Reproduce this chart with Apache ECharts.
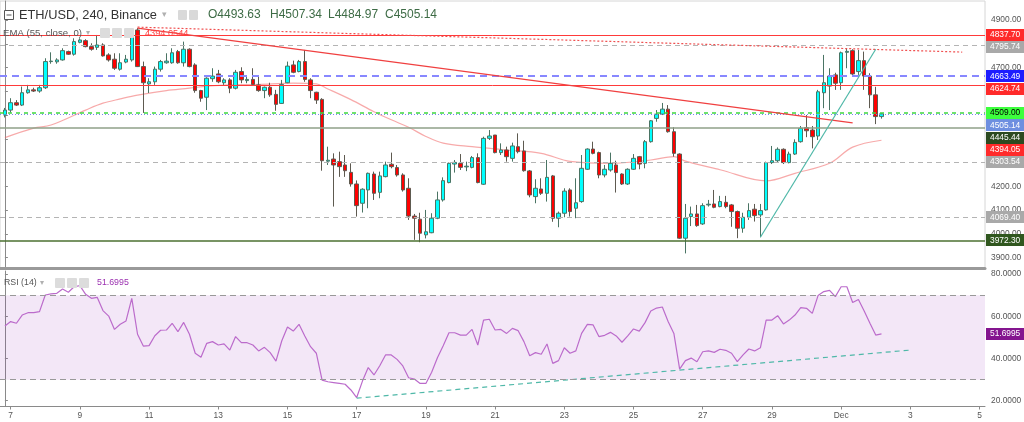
<!DOCTYPE html>
<html><head><meta charset="utf-8">
<script src="https://cdn.jsdelivr.net/npm/echarts@6/dist/echarts.min.js"></script>
<style>html,body{margin:0;padding:0;background:#fff}#c{width:1024px;height:422px}</style>
</head><body><div id="c"></div>
<script>
// ---- data (4h candles, index 0 = Nov 6 20:00) ----
const dayLabels = ['7','9','11','13','15','17','19','21','23','25','27','29','Dec','3','5'];
const dayTickIndex = [1,13,25,37,49,61,73,85,97,109,121,133,145,157,169];
// [open, high, low, close]
const candles = [
[4500,4530,4490,4521],[4521,4571,4510,4552],[4552,4563,4538,4542],[4542,4620,4538,4594],[4594,4627,4590,4606],
[4606,4615,4597,4601],[4601,4627,4594,4615],[4615,4739,4610,4725],[4725,4764,4716,4727],[4724,4739,4716,4732],
[4732,4781,4729,4771],[4767,4771,4753,4756],[4756,4823,4750,4809],[4806,4823,4802,4816],[4813,4819,4785,4788],
[4788,4802,4771,4777],[4785,4837,4774,4795],[4795,4802,4746,4749],[4753,4760,4725,4732],[4735,4760,4690,4697],
[4693,4760,4687,4720],[4723,4753,4718,4735],[4732,4866,4725,4851],[4858,4866,4702,4704],[4704,4725,4509,4636],
[4631,4655,4593,4640],[4640,4704,4627,4693],[4693,4732,4683,4725],[4720,4760,4716,4727],[4720,4781,4716,4762],
[4767,4774,4716,4720],[4720,4809,4704,4777],[4777,4781,4701,4704],[4711,4718,4594,4603],[4603,4606,4556,4571],
[4575,4659,4521,4655],[4653,4697,4640,4664],[4673,4690,4634,4640],[4636,4655,4627,4648],[4648,4655,4592,4613],
[4613,4690,4608,4680],[4683,4701,4634,4648],[4645,4662,4634,4650],[4650,4697,4627,4629],[4627,4662,4598,4603],
[4603,4620,4571,4617],[4617,4636,4577,4585],[4587,4606,4518,4545],[4549,4648,4547,4629],[4636,4725,4634,4706],
[4711,4729,4676,4680],[4683,4732,4680,4725],[4725,4774,4640,4650],[4648,4655,4571,4603],[4596,4598,4547,4563],
[4566,4571,4266,4308],[4306,4367,4290,4310],[4315,4339,4115,4290],[4304,4346,4240,4283],[4290,4332,4240,4266],
[4259,4297,4199,4210],[4210,4225,4073,4119],[4129,4192,4090,4188],[4185,4258,4108,4255],[4252,4262,4143,4171],
[4175,4262,4150,4244],[4241,4304,4238,4290],[4293,4342,4276,4283],[4279,4290,4241,4248],[4248,4255,4178,4185],
[4192,4234,4059,4075],[4075,4084,3975,4066],[4062,4089,3965,4003],[3996,4101,3981,4009],[4005,4087,4003,4066],
[4066,4178,4062,4143],[4143,4238,4136,4224],[4216,4300,4213,4297],[4294,4311,4258,4301],[4297,4336,4269,4280],
[4282,4304,4264,4285],[4280,4328,4276,4321],[4321,4339,4213,4216],[4209,4409,4206,4402],[4402,4437,4395,4412],
[4416,4416,4339,4342],[4342,4381,4332,4353],[4353,4367,4304,4325],[4318,4384,4304,4370],[4367,4423,4339,4346],
[4349,4392,4262,4266],[4265,4269,4154,4164],[4157,4230,4129,4192],[4189,4234,4164,4171],[4171,4311,4136,4238],
[4244,4248,4051,4066],[4066,4094,4028,4087],[4087,4192,4070,4180],[4185,4192,4073,4094],[4108,4234,4066,4131],
[4136,4332,4131,4276],[4272,4360,4269,4357],[4357,4388,4335,4339],[4342,4346,4234,4248],[4248,4290,4238,4272],
[4269,4342,4262,4297],[4290,4308,4174,4258],[4252,4255,4206,4210],[4210,4276,4206,4272],[4272,4336,4269,4318],
[4325,4328,4272,4294],[4297,4395,4276,4388],[4388,4479,4384,4476],[4486,4521,4472,4504],[4504,4551,4500,4525],
[4525,4542,4426,4430],[4430,4449,4325,4339],[4336,4339,3979,3982],[3982,4126,3918,4066],[4073,4115,4033,4084],
[4084,4122,4030,4035],[4042,4129,4038,4119],[4122,4143,4115,4125],[4126,4185,4108,4112],[4115,4160,4112,4136],
[4133,4160,4108,4115],[4122,4126,4030,4094],[4094,4098,3982,4024],[4024,4089,4005,4070],[4070,4129,4059,4098],
[4104,4126,4052,4077],[4080,4126,3986,4098],[4101,4304,4098,4300],[4300,4370,4294,4308],[4308,4364,4300,4356],
[4356,4360,4294,4300],[4300,4346,4297,4336],[4336,4398,4332,4385],[4388,4454,4384,4444],[4447,4500,4407,4434],
[4437,4454,4360,4409],[4412,4606,4395,4598],[4594,4753,4529,4636],[4622,4697,4521,4664],[4669,4678,4606,4634],
[4636,4767,4606,4762],[4764,4781,4697,4768],[4771,4777,4669,4673],[4683,4774,4669,4729],[4729,4767,4606,4664],
[4664,4676,4529,4585],[4585,4619,4462,4493.63],[4493.63,4507.34,4484.97,4505.14]
];
const rsiValues = [
55.4,57.5,56.7,60.6,61.7,61.7,62.2,70.1,70.6,70.9,72.9,71.4,74.0,74.5,70.4,68.5,69.0,62.7,60.1,53.8,
56.2,57.8,68.5,51.5,45.9,46.1,50.8,53.4,53.5,56.7,52.7,57.1,51.5,42.5,40.6,47.2,48.0,46.4,46.9,44.0,
50.4,47.5,47.5,46.4,43.6,45.3,42.8,38.8,48.3,54.9,53.0,56.2,50.7,45.6,42.5,29.8,29.0,28.6,28.2,27.8,
25.1,21.5,29.3,35.7,32.2,36.6,41.7,41.7,39.6,36.5,30.9,30.3,28.2,28.2,33.5,40.4,46.1,52.2,52.2,51.1,
51.1,53.8,46.4,58.2,58.6,53.5,53.8,51.9,54.3,53.2,48.0,41.3,42.8,42.0,46.9,37.7,39.0,45.1,42.5,43.6,
51.9,56.2,55.9,50.4,51.0,52.4,50.7,47.7,50.7,54.0,53.0,57.0,62.5,63.9,64.4,57.5,51.9,35.0,39.0,40.2,
38.5,43.2,43.6,42.9,44.4,43.9,42.5,38.5,41.7,44.5,43.6,45.1,58.2,58.2,60.3,56.4,58.2,60.6,64.1,63.8,
61.4,69.8,71.7,72.3,69.3,74.0,74.0,66.5,68.0,62.5,56.7,51.1,51.6995
];
// EMA(55): [candle index, value]
const emaPoints = [[0,4405],[5,4445],[8,4458],[14,4521],[17,4550],[20,4568],[23,4584],[28,4603],[32,4613],
[35,4622],[38,4626],[44,4629],[50,4634],[54,4631],[56,4610],[60,4565],[64,4514],[67,4480],[70,4449],[73,4410],
[76,4382],[81,4367],[87,4353],[93,4339],[98,4305],[105,4297],[112,4311],[116,4325],[118,4306],[124,4270],
[132,4223],[137,4255],[143,4297],[147,4365],[152,4394]];
const trendRedSteep = [[23,4866],[147,4467]];
const trendRedFlat = [[23,4870],[166,4765]];
const trendTeal = [[131,3986],[151,4777]];
const rsiTrend = [[61,21.2],[157,44.0]];
const hLevels = [4837.70,4795.74,4663.49,4624.74,4509.00,4505.14,4445.44,4303.54,4069.40,3972.30];
const tagValues = [4837.70,4795.74,4663.49,4624.74,4509.00,4505.14,4445.44,4394.05,4303.54,4069.40,3972.30];
const priceTicks = [3900,4000,4100,4200,4300,4400,4500,4600,4700,4800,4900];
const rsiTicks = [20,40,60,80];
const rsiBand = [30,70];
const rsiLast = 51.6995;
const ohlc = ['O4493.63','H4507.34','L4484.97','C4505.14'];
const emaLabel = '4394.0544';

// ---- styles ----
const FONT = 'Liberation Sans, Arial, sans-serif';
const AX = 8.4;
const levelStyles = [
  {color:'#ff3a3a',width:1,type:'solid'},
  {color:'#b4b4b4',width:1,type:[5,4]},
  {color:'#8888ff',width:2,type:[7,5]},
  {color:'#ff3a3a',width:1,type:'solid'},
  {color:'#3fd83f',width:1.5,type:[4,4]},
  {color:'#7a88ee',width:1,type:[1,2]},
  {color:'#8fa088',width:1.5,type:'solid'},
  {color:'#b4b4b4',width:1,type:[5,4]},
  {color:'#b4b4b4',width:1,type:[5,4]},
  {color:'#4b7030',width:1.5,type:'solid'}
];
const tagStyles = [
  ['#ff2a2a','#fff'],['#a9a9a9','#fff'],['#1c1cff','#fff'],['#ff2a2a','#fff'],['#3dff3d','#000'],
  ['#6e8fe0','#fff'],['#2c4a20','#fff'],['#ff2a2a','#fff'],['#a9a9a9','#fff'],['#a9a9a9','#fff'],['#30571f','#fff']
];
const PX = 5.767, XMIN = -0.85, PLOTW = 985;
const XMAX = XMIN + PLOTW / PX;

const chart = echarts.init(document.getElementById('c'), null, {width:1024, height:422});
const candleData = candles.map((d,i)=>[i, d[0], d[3], d[2], d[1]]);

const xBase = {type:'value', min:XMIN, max:XMAX, splitLine:{show:false}};
const option = {
  animation:false,
  backgroundColor:'#fff',
  grid:[
    {left:0, top:1, width:PLOTW, height:267, containLabel:false, outerBoundsMode:'none',
      show:true, borderColor:'#d6d6d6', borderWidth:1, backgroundColor:'transparent'},
    {left:0, top:271, width:PLOTW, height:135.5, containLabel:false, outerBoundsMode:'none'}
  ],
  xAxis:[
    Object.assign({}, xBase, {gridIndex:0, axisLabel:{show:false}, axisTick:{show:false},
      axisLine:{show:true, onZero:false, lineStyle:{color:'#9a9a9a', width:3}}}),
    Object.assign({}, xBase, {gridIndex:1,
      axisLine:{show:true, onZero:false, lineStyle:{color:'#8a8a8a', width:1}},
      axisTick:{show:true, length:3, customValues:dayTickIndex, lineStyle:{color:'#8a8a8a'}},
      axisLabel:{show:true, customValues:dayTickIndex, color:'#555', fontSize:AX, fontFamily:FONT, margin:5,
        formatter:(v)=>{const k=dayTickIndex.indexOf(Math.round(v)); return k>=0?dayLabels[k]:'';}}})
  ],
  yAxis:[
    {gridIndex:0, type:'value', position:'right', min:3856.6, max:4979.9, splitLine:{show:false},
      axisLine:{show:true, lineStyle:{color:'#8a8a8a'}},
      axisTick:{show:true, length:3, customValues:priceTicks, lineStyle:{color:'#8a8a8a'}},
      axisLabel:{customValues:priceTicks, color:'#555', fontSize:AX, fontFamily:FONT, margin:6,
        formatter:(v)=>v.toFixed(2)}},
    {gridIndex:1, type:'value', position:'right', min:17.27, max:81.46, splitLine:{show:false},
      axisLine:{show:true, lineStyle:{color:'#8a8a8a'}},
      axisTick:{show:true, length:3, customValues:rsiTicks, lineStyle:{color:'#8a8a8a'}},
      axisLabel:{customValues:rsiTicks, color:'#555', fontSize:AX, fontFamily:FONT, margin:6,
        formatter:(v)=>v.toFixed(4)}}
  ],
  series:[
    {type:'line', name:'EMA', xAxisIndex:0, yAxisIndex:0, data:emaPoints, smooth:0.35, symbol:'none', z:1,
      lineStyle:{color:'rgba(240,100,100,0.55)', width:1.2}},
    {type:'candlestick', xAxisIndex:0, yAxisIndex:0, data:candleData, barWidth:4, z:2,
      itemStyle:{color:'#00ffff', color0:'#ff0000', borderColor:'#4a7464', borderColor0:'#5e5a50', borderWidth:1},
      markLine:{silent:true, symbol:['none','none'], label:{show:false}, z:3,
        data:hLevels.map((v,i)=>({yAxis:v, lineStyle:levelStyles[i]}))}},
    {type:'line', xAxisIndex:0, yAxisIndex:0, data:trendRedSteep, symbol:'none', z:4,
      lineStyle:{color:'#f04040', width:1.2}},
    {type:'line', xAxisIndex:0, yAxisIndex:0, data:trendRedFlat, symbol:'none', z:4,
      lineStyle:{color:'#f05050', width:1.2, type:[2,2]}},
    {type:'line', xAxisIndex:0, yAxisIndex:0, data:trendTeal, symbol:'none', z:4,
      lineStyle:{color:'#4fb8a8', width:1.2}},
    {type:'line', name:'RSI', xAxisIndex:1, yAxisIndex:1, data:rsiValues.map((v,i)=>[i,v]), symbol:'none', z:3,
      lineStyle:{color:'#bb6bcb', width:1.2},
      markArea:{silent:true, itemStyle:{color:'rgba(150,40,180,0.11)'}, data:[[{yAxis:rsiBand[0]},{yAxis:rsiBand[1]}]]},
      markLine:{silent:true, symbol:['none','none'], label:{show:false},
        lineStyle:{color:'#999', width:1, type:[6,4]}, data:rsiBand.map(v=>({yAxis:v}))}},
    {type:'line', xAxisIndex:1, yAxisIndex:1, data:rsiTrend, symbol:'none', z:4,
      lineStyle:{color:'#4fb8a8', width:1.2, type:[5,4]}}
  ]
};
chart.setOption(option);

// ---- header texts & price tags ----
function txt(x,y,s,fill,size){return {type:'text', z:100, style:{x:x, y:y, text:s, fill:fill, fontSize:size,
  fontFamily:FONT, textAlign:'left', textVerticalAlign:'middle', align:'left', verticalAlign:'middle'}};}
function box(x,y,w,h,fill){return {type:'rect', z:100, shape:{x:x,y:y,width:w,height:h,r:1}, style:{fill:fill}};}
const g = [];
g.push({type:'rect', z:100, shape:{x:4.5,y:10.5,width:9,height:9}, style:{fill:'#fff', stroke:'#555', lineWidth:1}});
g.push({type:'line', z:101, shape:{x1:6.5,y1:15,x2:11.5,y2:15}, style:{stroke:'#555', lineWidth:1}});
g.push(txt(19,15,'ETH/USD, 240, Binance','#333',12.8));
g.push(txt(162,15,'▾','#b0b0b0',9));
g.push(box(178,10,9,10,'#d9d9d9')); g.push(box(189,10,9,10,'#d9d9d9'));
const ohlcX = [208,270,328,385];
ohlc.forEach((s,i)=>g.push(txt(ohlcX[i],15,s,'#3d6b45',12)));
g.push(txt(3,33,'EMA (55, close, 0)','#555',9.6));
g.push(txt(86,33,'▾','#b0b0b0',8));
[100,112,124].forEach(x=>g.push(box(x,28,10,10,'#dcdcdc')));
g.push(txt(145,33,emaLabel,'#ff4040',9.2));
g.push(txt(4,283,'RSI (14)','#555',8.8));
g.push(txt(40,283,'▾','#b0b0b0',8));
[55,67,79].forEach(x=>g.push(box(x,278,10,10,'#dcdcdc')));
g.push(txt(97,283,rsiLast.toFixed(4),'#9b30b0',8.8));

const items = tagValues.map((v,i)=>({v:v, s:tagStyles[i], y:chart.convertToPixel({yAxisIndex:0}, v)}));
items.sort((a,b)=>a.y-b.y);
let prev = -1e9;
items.forEach(it=>{
  const y = Math.max(it.y, prev + 12.3); prev = y;
  g.push({type:'rect', z:110, shape:{x:986,y:Math.round(y-6),width:40,height:12}, style:{fill:it.s[0]}});
  g.push(Object.assign(txt(990,y,it.v.toFixed(2),it.s[1],AX), {z:111}));
});
const ry = chart.convertToPixel({yAxisIndex:1}, rsiLast);
g.push({type:'rect', z:110, shape:{x:986,y:Math.round(ry-6),width:40,height:12}, style:{fill:'#84158f'}});
g.push(Object.assign(txt(990,ry,rsiLast.toFixed(4),'#fff',AX), {z:111}));
chart.setOption({graphic:{elements:g}});
</script>
</body></html>
